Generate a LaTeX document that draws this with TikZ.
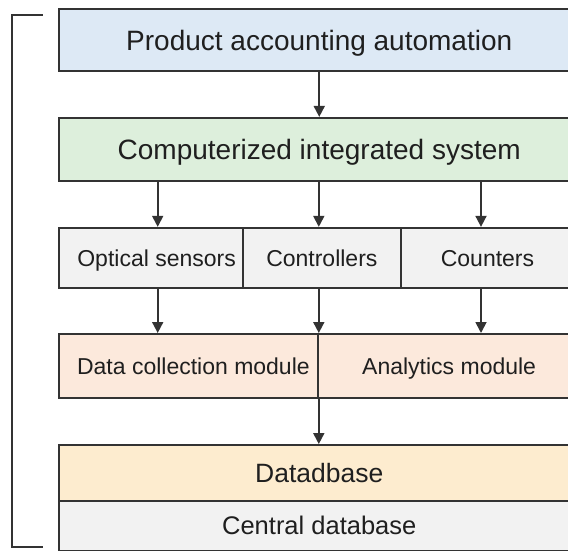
\documentclass[tikz,border=0pt]{standalone}
\usepackage{fontspec}
\setmainfont{Liberation Sans}
\usetikzlibrary{arrows.meta}

\definecolor{lineg}{HTML}{333333}
\definecolor{prodblue}{HTML}{DDE9F5}
\definecolor{cisgreen}{HTML}{DDEFDC}
\definecolor{rowgray}{HTML}{F2F2F2}
\definecolor{modpeach}{HTML}{FCE9DC}
\definecolor{dbyellow}{HTML}{FDECCF}

\begin{document}
\begin{tikzpicture}[x=1pt, y=-1pt,
  blk/.style={draw=lineg, line width=2pt, inner sep=0pt, text=black!88, text depth=0pt},
  big/.style={font=\fontsize{28}{34}\selectfont, text height=20pt},
  mid/.style={font=\fontsize{23}{28}\selectfont, text height=16.5pt},
  arr/.style={draw=lineg, line width=1.8pt, -{Triangle[length=11pt,width=11pt]}}]
\useasboundingbox (0,0) rectangle (568,550);
\clip (0,0) rectangle (568,550);
\coordinate (xa) at (157.7,0);
\coordinate (xb) at (318.8,0);
\coordinate (xc) at (481.0,0);
\node[blk, big, fill=prodblue, minimum width=521.5pt, minimum height=62pt] (prod) at (319.25,40.2) {Product accounting automation};
\node[blk, big, fill=cisgreen, minimum width=521.5pt, minimum height=63pt] (cis) at (319.25,149.4) {Computerized integrated system};
\node[blk, mid, fill=rowgray, minimum width=184.2pt, minimum height=60.3pt] (opt) at (150.6,258.0) {\hspace*{12pt}Optical sensors};
\node[blk, mid, fill=rowgray, minimum width=158.3pt, minimum height=60.3pt] (ctl) at (321.85,258.0) {Controllers};
\node[blk, mid, fill=rowgray, minimum width=179pt, minimum height=60.3pt] (cnt) at (490.5,258.0) {Counters\hspace*{6pt}};
\node[blk, mid, fill=modpeach, minimum width=259.8pt, minimum height=64pt] (dcm) at (188.4,366.0) {\hspace*{10pt}Data collection module};
\node[blk, mid, fill=modpeach, minimum width=261.7pt, minimum height=64pt] (anm) at (449.15,366.0) {Analytics module};
\node[blk, fill=dbyellow, font=\fontsize{26.5}{32}\selectfont, text height=19pt, minimum width=521.5pt, minimum height=55.7pt] (db) at (319.25,472.9) {Datadbase};
\node[blk, fill=rowgray, font=\fontsize{25.5}{30}\selectfont, text height=18.3pt, minimum width=521.5pt, minimum height=50pt] (cdb) at (319.25,525.7) {Central database};
\draw[arr] (prod.south) -- (cis.north);
\draw[arr] (cis.south -| xa) -- (opt.north -| xa);
\draw[arr] (cis.south -| xb) -- (ctl.north -| xb);
\draw[arr] (cis.south -| xc) -- (cnt.north -| xc);
\draw[arr] (opt.south -| xa) -- (dcm.north -| xa);
\draw[arr] (ctl.south -| xb) -- (dcm.north -| xb);
\draw[arr] (cnt.south -| xc) -- (anm.north -| xc);
\draw[arr] (dcm.south -| xb) -- (db.north -| xb);
% bracket on the left
\draw[lineg, line width=2pt] (42.7,15) -- (12.3,15) -- (12.3,547.3) -- (42.7,547.3);
\end{tikzpicture}
\end{document}
